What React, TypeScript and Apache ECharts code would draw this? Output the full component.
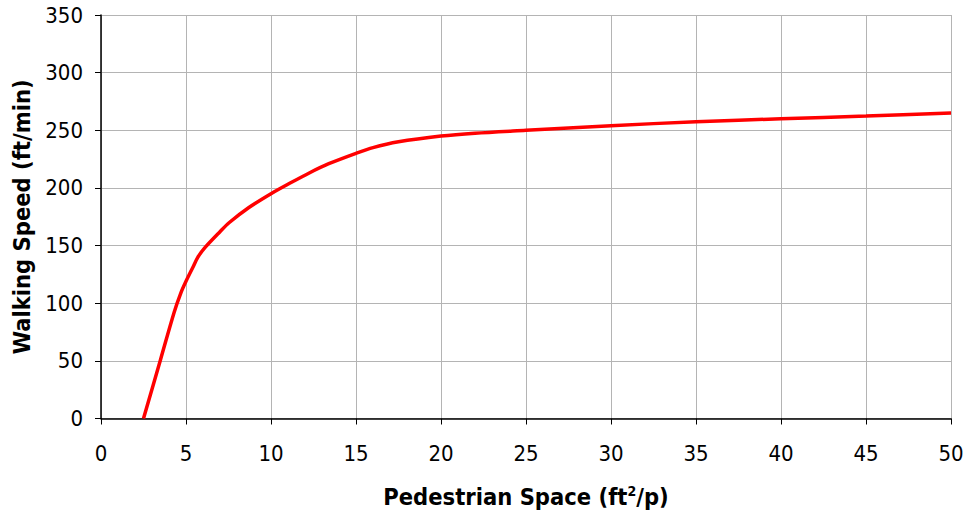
import React, { useEffect, useRef } from "react";
import * as echarts from "echarts";

const spaceValues = [2.5, 3.5, 4.3, 4.7, 5, 5.4, 5.7, 6.1, 7, 7.55, 8.7, 10, 11.1, 12.25, 13.4, 15, 16, 17.5, 20, 22, 25, 30, 35, 40, 45, 50];
const speedValues = [0, 51, 92, 109, 119, 131, 140, 148, 162, 170, 183, 195, 204, 213, 221, 230, 235, 240, 245, 247.5, 250, 254, 257.4, 260, 262.3, 265];

const xTitle = "Pedestrian Space (ft{sup|2}/p)";
const yTitle = "Walking Speed (ft/min)";

const FONT = "'DejaVu Sans Condensed', 'Liberation Sans', sans-serif";

export default function App() {
  const ref = useRef<HTMLDivElement>(null);
  useEffect(() => {
    if (!ref.current) return;
    const chart = echarts.init(ref.current, undefined, { renderer: "svg" });
    const data = spaceValues.map((x, i) => [x, speedValues[i]]);
    chart.setOption({
      animation: false,
      backgroundColor: "#ffffff",
      grid: { left: 101, right: 18, top: 15, bottom: 95, containLabel: false },
      xAxis: {
        type: "value",
        min: 0,
        max: 50,
        interval: 5,
        name: xTitle,
        nameLocation: "middle",
        nameGap: 65,
        nameTextStyle: {
          fontFamily: FONT,
          fontWeight: "bold",
          fontSize: 23.5,
          color: "#000",
          rich: {
            sup: { fontFamily: FONT, fontWeight: "bold", fontSize: 14, color: "#000", padding: [0, 0, 13, 0] },
          },
        },
        axisLine: { show: true, lineStyle: { color: "#000", width: 1.5 } },
        axisTick: { show: true, length: 6, lineStyle: { color: "#000", width: 1 } },
        axisLabel: { fontFamily: FONT, fontSize: 22, color: "#000", margin: 24 },
        splitLine: { show: true, lineStyle: { color: "#b4b4b4", width: 1 } },
      },
      yAxis: {
        type: "value",
        min: 0,
        max: 350,
        interval: 50,
        name: yTitle,
        nameLocation: "middle",
        nameGap: 67,
        nameRotate: 90,
        nameTextStyle: { fontFamily: FONT, fontWeight: "bold", fontSize: 23.5, color: "#000" },
        axisLine: { show: true, lineStyle: { color: "#000", width: 1.5 } },
        axisTick: { show: true, length: 6, lineStyle: { color: "#000", width: 1 } },
        axisLabel: { fontFamily: FONT, fontSize: 22, color: "#000", margin: 18 },
        splitLine: { show: true, lineStyle: { color: "#b4b4b4", width: 1 } },
      },
      series: [
        {
          type: "line",
          data,
          showSymbol: false,
          smooth: 0.3,
          lineStyle: { color: "#ff0000", width: 3.5 },
          itemStyle: { color: "#ff0000" },
        },
      ],
    });
    return () => chart.dispose();
  }, []);
  return <div ref={ref} style={{ position: "fixed", left: 0, top: 0, width: 969, height: 514 }} />;
}
